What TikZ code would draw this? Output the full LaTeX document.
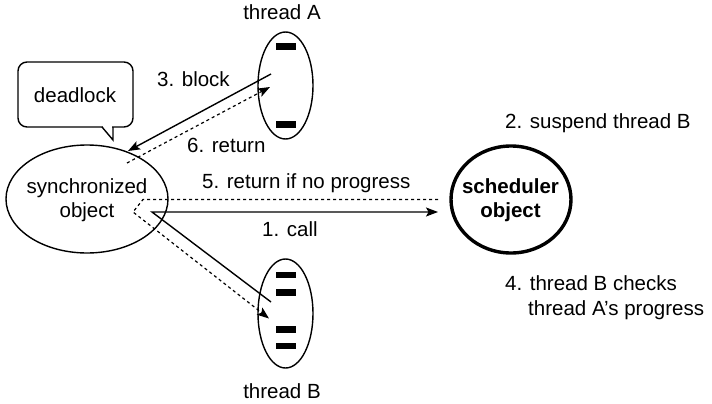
\documentclass[tikz,border=0pt]{standalone}
\usepackage{fontspec}
\setmainfont{Liberation Sans}
\usetikzlibrary{shapes.geometric,arrows.meta}
\tikzset{
  txt/.style={font=\fontsize{20.5}{24}\selectfont, inner sep=0pt},
  boldtxt/.style={txt, font=\fontsize{20.5}{24}\selectfont\bfseries},
  shape line/.style={line width=1.4pt},
  bar/.style={fill=black},
  tip/.style={-{Stealth[length=12pt,width=9pt,inset=2.5pt]}},
  callarrow/.style={line width=1.4pt, tip},
  backarrow/.style={line width=1.2pt, dash pattern=on 3pt off 3pt, tip},
}
\begin{document}
\begin{tikzpicture}[x=1pt,y=-1pt]
\useasboundingbox (0,0) rectangle (712,404);

% thread A and its two stack frames
\node[txt, anchor=base] (lblA) at (282,20) {thread A};
\node[ellipse, draw, shape line, minimum width=55, minimum height=107, inner sep=0pt] (thrA) at (285.5,85.5) {};
\fill[bar] (276,43) rectangle (296,50);
\fill[bar] (276,121) rectangle (296,128);

% thread B and its four stack frames
\node[ellipse, draw, shape line, minimum width=55, minimum height=109, inner sep=0pt] (thrB) at (285.5,313.5) {};
\fill[bar] (276,272) rectangle (296,278);
\fill[bar] (276,289) rectangle (296,296);
\fill[bar] (276,326) rectangle (296,333);
\fill[bar] (276,343) rectangle (296,349);
\node[txt, anchor=base] (lblB) at (282,398) {thread B};

% speech bubble
\node[draw, shape line, rounded corners=9pt, minimum width=115, minimum height=65, inner sep=0pt] (bubble) at (75.5,94.5) {};
\fill[white] (103,125.3) rectangle (112.3,128.7);
\draw[shape line, line join=miter] (102,127) -- (113,140) -- (113,127);
\node[txt, anchor=base] (dl) at (75,102.5) {deadlock};

% synchronized object
\node[ellipse, draw, shape line, minimum width=162, minimum height=108, inner sep=0pt] (sync) at (87,199) {};
\node[txt, align=center] (synctxt) at (87,200.5) {synchronized\\object};

% scheduler object
\node[ellipse, draw, line width=3.4pt, minimum width=120, minimum height=107, inner sep=0pt] (sched) at (511,199.5) {};
\node[boldtxt, align=center] (schedtxt) at (510.5,200.5) {scheduler\\object};

% connector end points
\coordinate (a1) at (271,74);
\coordinate (s1) at (128,151);
\coordinate (s2) at (127,163);
\coordinate (a2) at (270,87);
\coordinate (b1) at (271,302);
\coordinate (s3) at (152,212);
\coordinate (c1) at (438,212);
\coordinate (c2) at (438,199.5);
\coordinate (s4) at (143,199.5);
\coordinate (s5) at (133,212);
\coordinate (b2) at (269,318.5);

% connectors
\draw[callarrow] (a1) -- (s1);
\draw[backarrow] (s2) -- (a2);
\draw[callarrow, line join=miter] (b1) -- (s3) -- (c1);
\draw[backarrow] (c2) -- (s4) -- (s5) -- (b2);

% labels
\node[txt, anchor=base west] (l3) at (157,86) {3. block};
\node[txt, anchor=base west] (l6) at (187,152) {6. return};
\node[txt, anchor=base west] (l5) at (202,188) {5. return if no progress};
\node[txt, anchor=base west] (l1) at (262,236) {1. call};
\node[txt, anchor=base west] (l2) at (505,128) {2. suspend thread B};
\node[txt, anchor=base west] (l4) at (505,290) {4. thread B checks};
\node[txt, anchor=base west] (l4b) at (528,315) {thread A’s progress};
\end{tikzpicture}
\end{document}
